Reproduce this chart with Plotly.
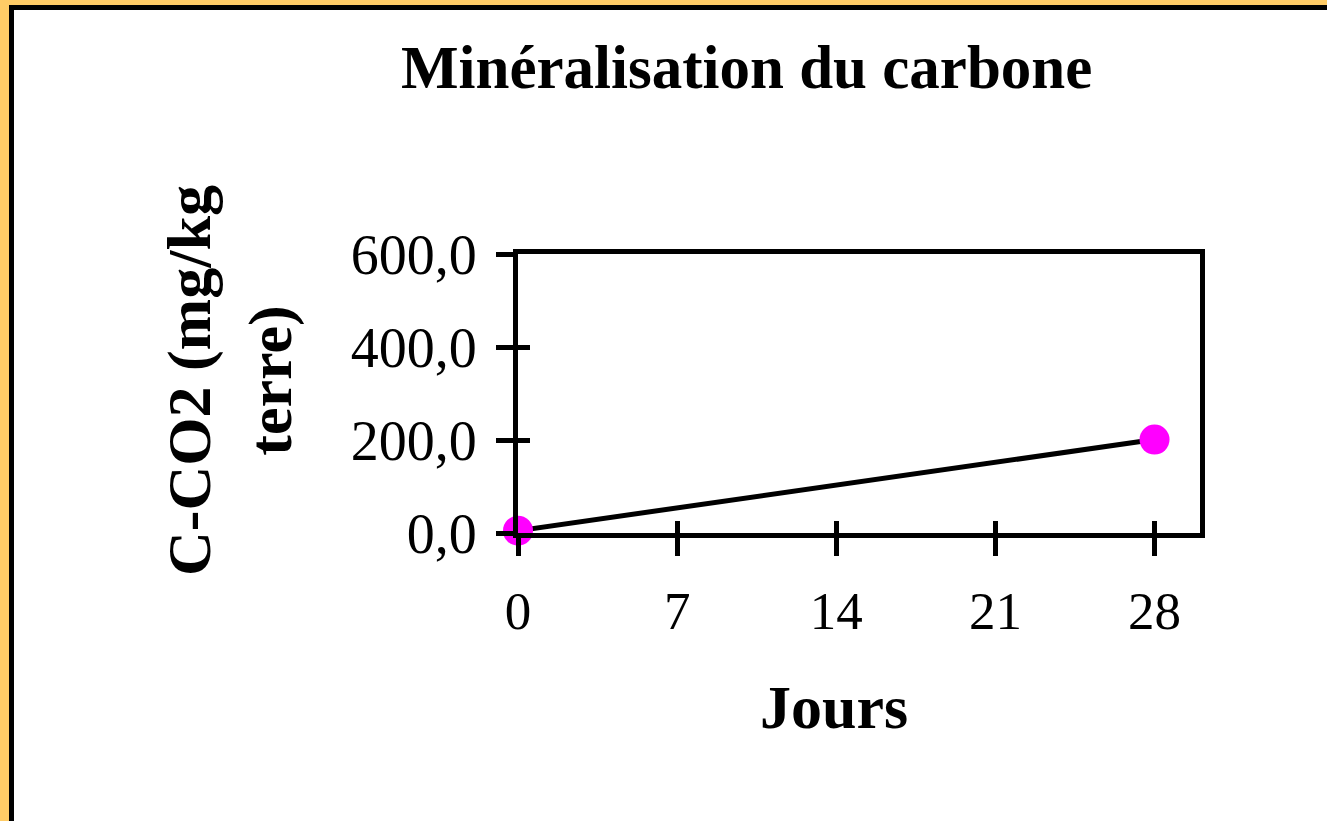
import plotly.graph_objects as go

# Data
jours = [0, 28]
c_co2 = [5, 201]

x_tickvals = [0, 7, 14, 21, 28]
x_ticktext = ["0", "7", "14", "21", "28"]
y_tickvals = [0, 200, 400, 600]
y_ticktext = ["0,0", "200,0", "400,0", "600,0"]

title_text = "Minéralisation du carbone"
x_title = "Jours"
y_title = "C-CO2 (mg/kg<br>terre)"

W, H = 1327, 821
L, R, T, B = 518, 1200, 254, 533
pw, ph = R - L, B - T

def px(x):
    return (x - L) / pw

def py(y):
    return (B - y) / ph

FONT = "Liberation Serif"

fig = go.Figure()
fig.add_trace(go.Scatter(
    x=jours, y=c_co2, mode="lines+markers",
    line=dict(color="black", width=5),
    marker=dict(color="#FF00FF", size=30, line=dict(width=0)),
    cliponaxis=False, showlegend=False,
))
# invisible trace for overlay axis
fig.add_trace(go.Scatter(x=jours, y=c_co2, xaxis="x2", yaxis="y2",
                         mode="markers", marker=dict(opacity=0),
                         showlegend=False, hoverinfo="skip"))

axis_common = dict(showgrid=False, zeroline=False, showline=True,
                   linecolor="black", linewidth=5, tickcolor="black",
                   tickwidth=5)

fig.update_layout(
    width=W, height=H,
    margin=dict(l=L, r=W - R, t=T, b=H - B, pad=0),
    paper_bgcolor="white", plot_bgcolor="white",
    font=dict(family=FONT, color="black"),
    xaxis=dict(range=[0, 30], tickvals=x_tickvals, ticktext=x_ticktext,
               ticks="outside", ticklen=18, mirror=True,
               tickfont=dict(family=FONT, size=53), ticklabelstandoff=9,
               **axis_common),
    yaxis=dict(range=[0, 600], tickvals=y_tickvals, ticktext=y_ticktext,
               ticks="outside", ticklen=17, mirror=True,
               tickfont=dict(family=FONT, size=56), ticklabelstandoff=8,
               **axis_common),
    xaxis2=dict(overlaying="x", range=[0, 30], tickvals=x_tickvals,
                ticks="inside", ticklen=12, showticklabels=False,
                showgrid=False, zeroline=False, showline=False,
                tickcolor="black", tickwidth=5),
    yaxis2=dict(overlaying="y", range=[0, 600], tickvals=y_tickvals,
                ticks="inside", ticklen=12, showticklabels=False,
                showgrid=False, zeroline=False, showline=False,
                tickcolor="black", tickwidth=5),
    annotations=[
        dict(text=title_text, xref="paper", yref="paper",
             x=px(746), y=py(67), xanchor="center", yanchor="middle",
             showarrow=False,
             font=dict(family=FONT, size=61, weight="bold")),
        dict(text=x_title, xref="paper", yref="paper",
             x=px(834), y=py(707), xanchor="center", yanchor="middle",
             showarrow=False,
             font=dict(family=FONT, size=62, weight="bold")),
        dict(text=y_title, xref="paper", yref="paper",
             x=px(230), y=py(381), xanchor="center", yanchor="middle",
             textangle=-90, showarrow=False,
             font=dict(family=FONT, size=62, weight="bold")),
    ],
    shapes=[
        dict(type="rect", xref="paper", yref="paper", layer="below",
             x0=px(-5), x1=px(9), y0=py(H + 5), y1=py(-5),
             fillcolor="#FFCC66", line=dict(width=0)),
        dict(type="rect", xref="paper", yref="paper", layer="below",
             x0=px(-5), x1=px(W + 5), y0=py(5), y1=py(-5),
             fillcolor="#FFCC66", line=dict(width=0)),
        dict(type="rect", xref="paper", yref="paper", layer="below",
             x0=px(9), x1=px(14), y0=py(H + 5), y1=py(5),
             fillcolor="black", line=dict(width=0)),
        dict(type="rect", xref="paper", yref="paper", layer="below",
             x0=px(9), x1=px(W + 5), y0=py(10), y1=py(5),
             fillcolor="black", line=dict(width=0)),
    ],
)

fig.write_html("out.html", config={"displayModeBar": False},
               post_script="document.body.style.margin='0';document.body.style.overflow='hidden';")
